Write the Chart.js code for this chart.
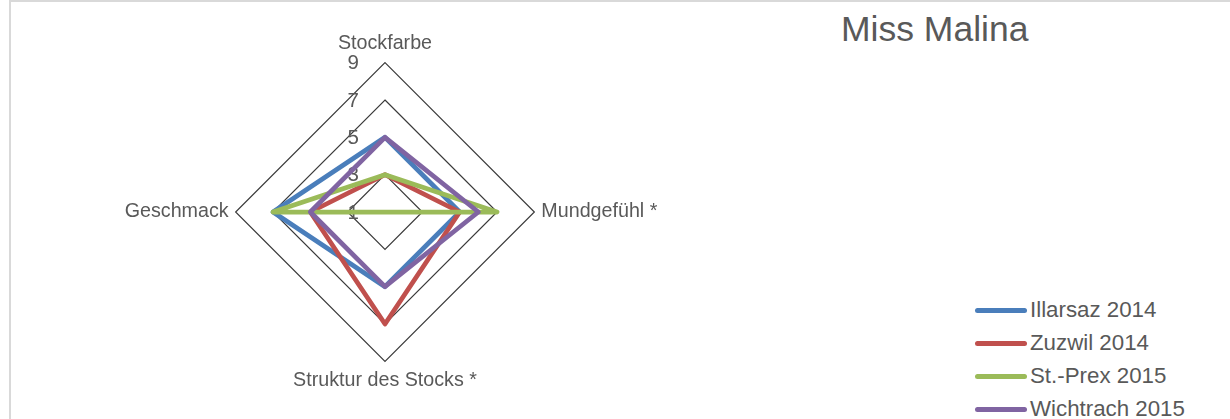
<!DOCTYPE html>
<html>
<head>
<meta charset="utf-8">
<script src="https://cdn.jsdelivr.net/npm/chart.js@4/dist/chart.umd.min.js"></script>
<style>
  html, body { margin: 0; padding: 0; background: #fff; overflow: hidden; }
  body { width: 1230px; height: 419px; position: relative; font-family: "Liberation Sans", Arial, sans-serif; color: #595959; }
  #frame { position: absolute; left: 9px; top: 0; width: 1400px; height: 600px; border-top: 2px solid #d9d9d9; border-left: 2px solid #d9d9d9; }
  #wrap { position: absolute; left: 0; top: 32px; width: 770px; height: 361px; }
  #title { position: absolute; left: 841px; top: 12px; font-size: 35.5px; line-height: 35px; white-space: nowrap; }
  #legend { position: absolute; left: 975px; top: 299px; }
  .item { position: absolute; left: 0; height: 22px; white-space: nowrap; }
  .swatch { position: absolute; left: 0; top: 8.5px; width: 52px; height: 5px; border-radius: 3px; }
  .label { position: absolute; left: 55px; top: 0; font-size: 22.3px; line-height: 22px; }
</style>
</head>
<body>
<div id="frame"></div>
<div id="title">Miss Malina</div>
<div id="wrap"><canvas id="chart"></canvas></div>
<div id="legend"></div>
<script>
// Tasting criteria (radar axes)
const categories = ['Stockfarbe', 'Mundgefühl *', 'Struktur des Stocks *', 'Geschmack'];

// Scores per origin
const illarsaz2014 = [5, 5, 5, 7];
const zuzwil2014 = [3, 5, 7, 5];
const stPrex2015 = [3, 7, 1, 7];
const wichtrach2015 = [5, 6, 5, 5];

// Radial scale tick labels
const tickValues = [1, 3, 5, 7, 9];

const seriesNames = ['Illarsaz 2014', 'Zuzwil 2014', 'St.-Prex 2015', 'Wichtrach 2015'];
const seriesData = [illarsaz2014, zuzwil2014, stPrex2015, wichtrach2015];
const seriesColors = ['#4a7ebb', '#c0504d', '#9bbb59', '#8064a2'];

const textColor = '#595959';
const fontFamily = '"Liberation Sans", Arial, sans-serif';

// Tick numbers drawn to the left of the vertical axis, under the series lines
const tickLabelPlugin = {
  id: 'tickLabels',
  beforeDatasetsDraw(chart) {
    const scale = chart.scales.r;
    const ctx = chart.ctx;
    ctx.save();
    ctx.font = '20.5px ' + fontFamily;
    ctx.fillStyle = textColor;
    ctx.textAlign = 'right';
    ctx.textBaseline = 'middle';
    tickValues.forEach(v => {
      const y = scale.yCenter - scale.getDistanceFromCenterForValue(v);
      ctx.fillText(String(v), scale.xCenter - 26, y + 1);
    });
    ctx.restore();
  }
};

new Chart(document.getElementById('chart'), {
  type: 'radar',
  data: {
    labels: categories,
    datasets: seriesData.map((d, i) => ({
      label: seriesNames[i],
      data: d,
      borderColor: seriesColors[i],
      backgroundColor: seriesColors[i],
      borderWidth: 4.75,
      borderJoinStyle: 'round',
      borderCapStyle: 'round',
      fill: false,
      pointRadius: 0,
      pointHoverRadius: 0,
      order: seriesData.length - 1 - i
    }))
  },
  options: {
    responsive: true,
    maintainAspectRatio: false,
    animation: false,
    layout: { padding: 0 },
    plugins: {
      legend: { display: false },
      title: { display: false },
      tooltip: { enabled: false }
    },
    scales: {
      r: {
        min: 1,
        max: 9,
        ticks: { display: false, stepSize: 2 },
        angleLines: { display: false },
        grid: { color: '#3a3a3a', lineWidth: 1.2 },
        pointLabels: {
          display: true,
          padding: 7,
          color: textColor,
          font: { family: fontFamily, size: 19.7 }
        }
      }
    }
  },
  plugins: [tickLabelPlugin]
});

// Legend entries
const legend = document.getElementById('legend');
seriesNames.forEach((name, i) => {
  const item = document.createElement('div');
  item.className = 'item';
  item.style.top = (i * 33) + 'px';
  const sw = document.createElement('div');
  sw.className = 'swatch';
  sw.style.background = seriesColors[i];
  const lb = document.createElement('div');
  lb.className = 'label';
  lb.textContent = name;
  item.appendChild(sw);
  item.appendChild(lb);
  legend.appendChild(item);
});
</script>
</body>
</html>
